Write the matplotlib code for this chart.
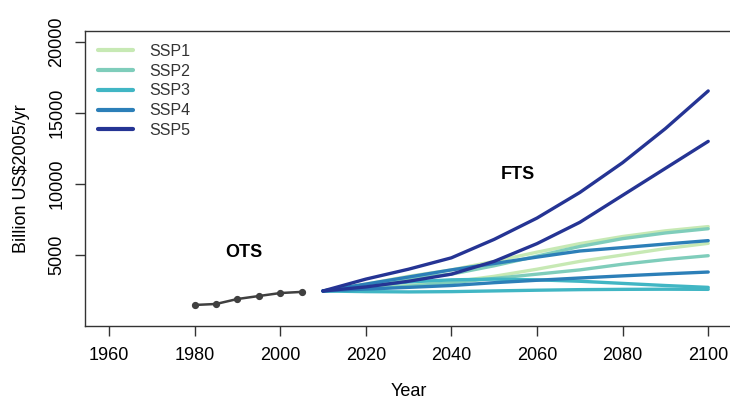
import matplotlib
matplotlib.use("Agg")
import matplotlib.pyplot as plt

plt.rcParams['font.family'] = ['Liberation Sans', 'DejaVu Sans']

# Observed time series (OTS)
ots_years = [1980, 1985, 1990, 1995, 2000, 2005]
ots_values = [1480, 1550, 1900, 2110, 2320, 2400]

# Future time series (FTS), two trajectories per SSP
fts_years = [2010, 2020, 2030, 2040, 2050, 2060, 2070, 2080, 2090, 2100]
ssp1_a = [2465, 2950, 3500, 3950, 4550, 5200, 5800, 6300, 6700, 7000]
ssp1_b = [2465, 2650, 2850, 3100, 3500, 4000, 4550, 5000, 5450, 5820]
ssp2_a = [2465, 2900, 3350, 3650, 4240, 4920, 5600, 6150, 6550, 6850]
ssp2_b = [2465, 2600, 2800, 3050, 3350, 3650, 3950, 4350, 4680, 4950]
ssp3_a = [2465, 2800, 3100, 3250, 3300, 3250, 3150, 3000, 2850, 2720]
ssp3_b = [2465, 2420, 2400, 2420, 2470, 2520, 2560, 2580, 2590, 2580]
ssp4_a = [2465, 2950, 3450, 3950, 4400, 4850, 5280, 5520, 5770, 6010]
ssp4_b = [2465, 2600, 2720, 2850, 3050, 3220, 3380, 3530, 3670, 3800]
ssp5_a = [2465, 3300, 4000, 4800, 6100, 7600, 9400, 11500, 13900, 16550]
ssp5_b = [2465, 2750, 3150, 3650, 4550, 5800, 7300, 9200, 11100, 13000]

ssp_labels = ["SSP1", "SSP2", "SSP3", "SSP4", "SSP5"]
ssp_colors = ["#c7e9b4", "#7fcdbb", "#41b6c4", "#2c7fb8", "#253494"]
ssp_series = [(ssp1_a, ssp1_b), (ssp2_a, ssp2_b), (ssp3_a, ssp3_b),
              (ssp4_a, ssp4_b), (ssp5_a, ssp5_b)]

x_ticks = [1960, 1980, 2000, 2020, 2040, 2060, 2080, 2100]
y_ticks = [5000, 10000, 15000, 20000]

fig = plt.figure(figsize=(7.3, 4.0), dpi=100)
ax = fig.add_axes([0.1164, 0.185, 0.8866, 0.7375])

handles = []
for label, color, (sa, sb) in zip(ssp_labels, ssp_colors, ssp_series):
    h, = ax.plot(fts_years, sa, color=color, lw=2.4, label=label,
                 solid_capstyle='round', solid_joinstyle='round')
    ax.plot(fts_years, sb, color=color, lw=2.4,
            solid_capstyle='round', solid_joinstyle='round')
    handles.append(h)

ax.plot(ots_years, ots_values, color="#404040", lw=1.8, marker='o',
        markersize=4.2)

ax.text(1991.5, 5150, "OTS", fontsize=13, fontweight='bold',
        ha='center', va='center')
ax.text(2055.5, 10700, "FTS", fontsize=13, fontweight='bold',
        ha='center', va='center')

ax.set_xlim(1954.4, 2105.6)
ax.set_ylim(0, 20770)
ax.set_xticks(x_ticks)
ax.set_yticks(y_ticks)
ax.tick_params(axis='both', direction='out', length=7, width=1,
               labelsize=13, color='#333333')
ax.tick_params(axis='x', pad=8)
ax.tick_params(axis='y', pad=7)
for lab in ax.get_yticklabels():
    lab.set_rotation(90)
    lab.set_va('center')
for sp in ax.spines.values():
    sp.set_color('#333333')
    sp.set_linewidth(1.0)

ax.set_xlabel("Year", fontsize=13, labelpad=14)
ax.set_ylabel("Billion US$2005/yr", fontsize=13, labelpad=13)

leg = ax.legend(handles=handles, loc='upper left', frameon=False,
                fontsize=11.5, handlelength=2.2, handletextpad=1.0,
                labelspacing=0.3, borderaxespad=0.4,
                bbox_to_anchor=(0.0, 1.0))
for line in leg.get_lines():
    line.set_linewidth(3)
for t in leg.get_texts():
    t.set_color('#333333')

fig.savefig("out.png", dpi=100)
